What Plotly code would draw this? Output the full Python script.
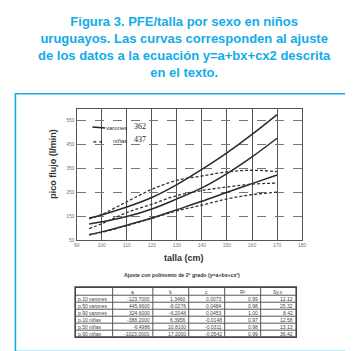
import plotly.graph_objects as go

# ---------------- data ----------------
talla = [95, 100, 110, 120, 130, 140, 150, 160, 170]
p90_varones = [142, 155, 188, 228, 282, 346, 415, 492, 575]
p50_varones = [117, 126, 148, 180, 222, 268, 328, 398, 476]
p10_varones = [72, 84, 112, 142, 177, 212, 250, 286, 322]
p90_ninas = [138, 157, 210, 262, 300, 318, 335, 342, 336]
p50_ninas = [98, 118, 165, 200, 236, 257, 272, 284, 288]
p10_ninas = [72, 82, 110, 140, 172, 196, 222, 240, 250]

x_ticks = [90, 100, 110, 120, 130, 140, 150, 160, 170, 180]
y_ticks = [50, 150, 250, 350, 450, 550]

legend_labels = ["varones", "niñas"]
legend_counts = ["362", "437"]

table_header = ["", "a", "b", "c", "R²", "Sy.x"]
row_labels = ["p.10 varones", "p.50 varones", "p.90 varones",
              "p.10 niñas", "p.50 niñas", "p.90 niñas"]
col_a = ["-123.7000", "445.6600", "324.6000", "-388.2000", "-6.4986", "-1023.0000"]
col_b = ["1.3460", "-8.0276", "-6.2048", "6.3956", "10.8100", "17.2000"]
col_c = ["0.0073", "0.0484", "0.0453", "-0.0148", "-0.0311", "-0.0542"]
col_r2 = ["0.99", "0.98", "1.00", "0.97", "0.98", "0.99"]
col_syx = ["12.12", "25.32", "8.42", "12.58", "13.13", "36.42"]

# ---------------- layout helpers ----------------
W, H = 353, 351
def pxx(x):
    return x / W
def pxy(y):
    return 1 - y / H

CYAN = "#12ace8"
FONT = "Liberation Sans, Arial, sans-serif"

fig = go.Figure()

solid = dict(color="#2a2a2a", width=1.5, shape="spline")
dashed = dict(color="#333333", width=1.3, dash="3px,2px", shape="spline")
for ys in (p90_varones, p50_varones, p10_varones):
    fig.add_trace(go.Scatter(x=talla, y=ys, mode="lines", line=solid,
                             showlegend=False, hoverinfo="skip"))
for ys in (p90_ninas, p50_ninas, p10_ninas):
    fig.add_trace(go.Scatter(x=talla, y=ys, mode="lines", line=dashed,
                             showlegend=False, hoverinfo="skip"))

shapes = []
annotations = []

# outer cyan frame
shapes.append(dict(type="rect", xref="paper", yref="paper",
                   x0=pxx(4.5), x1=pxx(347.5), y0=pxy(346.5), y1=pxy(86.5),
                   line=dict(color=CYAN, width=1.6)))

# title
annotations.append(dict(
    xref="paper", yref="paper", x=0.5, y=pxy(39), xanchor="center", yanchor="middle",
    showarrow=False, align="center",
    text="<b>Figura 3. PFE/talla por sexo en niños<br>uruguayos. Las curvas corresponden al ajuste<br>"
         "de los datos a la ecuación y=a+bx+cx2 descrita<br>en el texto.</b>",
    font=dict(family=FONT, size=13, color=CYAN)))

# axis titles
annotations.append(dict(xref="paper", yref="paper", x=pxx(43), y=pxy(157),
                        text="<b>pico flujo (l/min)</b>", textangle=-90, showarrow=False,
                        xanchor="center", yanchor="middle",
                        font=dict(family=FONT, size=9, color="#333333")))
annotations.append(dict(xref="paper", yref="paper", x=pxx(176), y=pxy(252),
                        text="<b>talla (cm)</b>", showarrow=False,
                        xanchor="center", yanchor="middle",
                        font=dict(family=FONT, size=9, color="#333333")))

# legend (inside plot)
shapes.append(dict(type="line", xref="paper", yref="paper",
                   x0=pxx(83), x1=pxx(96), y0=pxy(120), y1=pxy(121),
                   line=dict(color="#222", width=1.6)))
shapes.append(dict(type="line", xref="paper", yref="paper",
                   x0=pxx(84), x1=pxx(93), y0=pxy(135), y1=pxy(135),
                   line=dict(color="#222", width=1.4, dash="3px,3px")))
leg_y = [121, 134]
for lab, cnt, yy in zip(legend_labels, legend_counts, leg_y):
    annotations.append(dict(xref="paper", yref="paper", x=pxx(120), y=pxy(yy),
                            text=lab, showarrow=False, xanchor="right", yanchor="middle",
                            font=dict(family=FONT, size=6, color="#333")))
    annotations.append(dict(xref="paper", yref="paper", x=pxx(123), y=pxy(yy - 1),
                            text=cnt, showarrow=False, xanchor="left", yanchor="middle",
                            font=dict(family="Liberation Serif, serif", size=8, color="#222")))

# table title
annotations.append(dict(xref="paper", yref="paper", x=pxx(174), y=pxy(269),
                        text="<b>Ajuste con polinomio de 2° grado (y=a+bx+cx²)</b>",
                        showarrow=False, xanchor="center", yanchor="middle",
                        font=dict(family=FONT, size=5.2, color="#333")))

# table grid
col_edges = [65.5, 103.7, 144.7, 181.3, 218, 254.7, 291]
top, head_bot, bottom = 281.5, 289.7, 332
row_h = (bottom - head_bot) / len(row_labels)
shapes.append(dict(type="rect", xref="paper", yref="paper",
                   x0=pxx(col_edges[0]), x1=pxx(col_edges[-1]), y0=pxy(bottom), y1=pxy(top),
                   line=dict(color="#444", width=1.6)))
for xe in col_edges[1:-1]:
    shapes.append(dict(type="line", xref="paper", yref="paper",
                       x0=pxx(xe), x1=pxx(xe), y0=pxy(bottom), y1=pxy(top),
                       line=dict(color="#555", width=1)))
for i in range(len(row_labels)):
    yy = head_bot + i * row_h
    shapes.append(dict(type="line", xref="paper", yref="paper",
                       x0=pxx(col_edges[0]), x1=pxx(col_edges[-1]), y0=pxy(yy), y1=pxy(yy),
                       line=dict(color="#555", width=1)))

tfont = dict(family=FONT, size=5, color="#444")
for j, h in enumerate(table_header):
    if h:
        annotations.append(dict(xref="paper", yref="paper",
                                x=pxx((col_edges[j] + col_edges[j + 1]) / 2), y=pxy((top + head_bot) / 2 + 0.5),
                                text=h, showarrow=False, xanchor="center", yanchor="middle", font=tfont))
columns = [col_a, col_b, col_c, col_r2, col_syx]
for i, lab in enumerate(row_labels):
    yc = head_bot + (i + 0.5) * row_h
    annotations.append(dict(xref="paper", yref="paper", x=pxx(col_edges[0] + 1), y=pxy(yc),
                            text=lab, showarrow=False, xanchor="left", yanchor="middle", font=tfont))
    for j, col in enumerate(columns):
        annotations.append(dict(xref="paper", yref="paper", x=pxx(col_edges[j + 2] - 1), y=pxy(yc),
                                text=col[i], showarrow=False, xanchor="right", yanchor="middle",
                                font=tfont))

fig.update_layout(
    width=W, height=H, margin=dict(l=0, r=0, t=0, b=0),
    paper_bgcolor="white", plot_bgcolor="white",
    shapes=shapes, annotations=annotations, showlegend=False,
    xaxis=dict(domain=[pxx(67), pxx(297)], range=[90, 180], tickvals=x_ticks,
               showgrid=True, gridcolor="#555", gridwidth=1.2,
               showline=True, mirror=True, linecolor="#555", linewidth=1.2,
               zeroline=False, ticks="", tickfont=dict(family=FONT, size=5, color="#777")),
    yaxis=dict(domain=[pxy(234), pxy(101.5)], range=[50, 600], tickvals=y_ticks,
               showgrid=True, gridcolor="#777", gridwidth=1, griddash="dash",
               showline=True, mirror=True, linecolor="#555", linewidth=1.2,
               zeroline=False, ticks="", tickfont=dict(family=FONT, size=5, color="#777")),
)

fig.write_html("out.html")
